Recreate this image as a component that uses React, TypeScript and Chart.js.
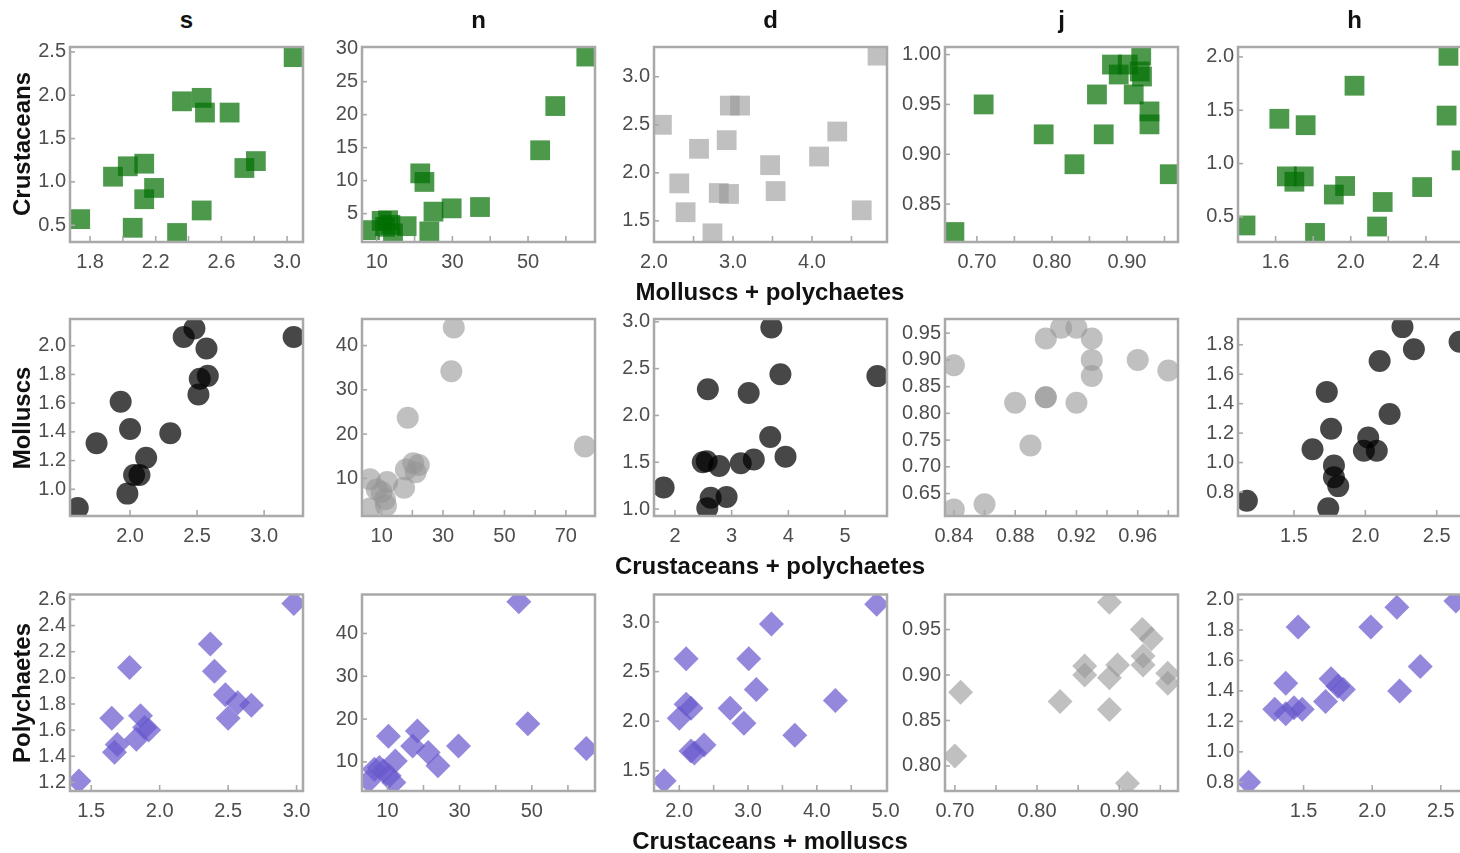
import React, { useEffect, useRef } from 'react';
import { Chart, registerables } from 'chart.js';

Chart.register(...registerables);

// ---------- Column / row labels ----------
const columnTitles = ['s', 'n', 'd', 'j', 'h'];
const rowTitles = ['Crustaceans', 'Molluscs', 'Polychaetes'];
const xAxisTitles = ['Molluscs + polychaetes', 'Crustaceans + polychaetes', 'Crustaceans + molluscs'];

// ---------- Row 1: Crustaceans vs Molluscs + polychaetes ----------
const crusS_x = [1.74, 1.94, 2.03, 2.13, 2.06, 2.13, 2.19, 2.33, 2.36, 2.48, 2.50, 2.48, 2.65, 2.74, 2.81, 3.04];
const crusS_y = [0.57, 1.06, 1.18, 1.21, 0.47, 0.80, 0.93, 0.41, 1.93, 1.97, 1.80, 0.67, 1.80, 1.16, 1.24, 2.44];
const crusN_x = [8.2, 11.3, 13.0, 12.2, 14.3, 17.9, 21.5, 22.6, 23.9, 25.0, 29.8, 37.3, 53.2, 57.2, 65.4, 13.6];
const crusN_y = [2.5, 3.9, 4.0, 3.0, 2.0, 3.1, 11.1, 9.8, 2.3, 5.3, 5.8, 6.0, 14.6, 21.3, 28.8, 3.3];
const crusD_x = [2.10, 2.32, 2.40, 2.57, 2.74, 2.82, 2.95, 2.92, 2.96, 3.09, 3.47, 3.54, 4.09, 4.32, 4.63, 4.83];
const crusD_y = [2.50, 1.89, 1.59, 2.25, 1.37, 1.79, 1.78, 2.34, 2.70, 2.70, 2.08, 1.81, 2.17, 2.43, 1.61, 3.22];
const crusJ_x = [0.670, 0.709, 0.789, 0.830, 0.860, 0.869, 0.880, 0.889, 0.901, 0.909, 0.919, 0.917, 0.920, 0.930, 0.930, 0.957];
const crusJ_y = [0.822, 0.950, 0.920, 0.890, 0.960, 0.920, 0.990, 0.980, 0.990, 0.960, 0.999, 0.983, 0.978, 0.943, 0.930, 0.880];
const crusH_x = [1.44, 1.62, 1.76, 1.66, 1.70, 1.75, 1.81, 1.91, 1.97, 2.02, 2.14, 2.17, 2.38, 2.51, 2.52, 2.59];
const crusH_y = [0.42, 1.42, 1.36, 0.88, 0.83, 0.88, 0.35, 0.71, 0.79, 1.73, 0.41, 0.64, 0.78, 1.45, 2.01, 1.03];

// ---------- Row 2: Molluscs vs Crustaceans + polychaetes ----------
const mollS_x = [1.61, 1.75, 1.93, 2.00, 1.98, 2.03, 2.07, 2.12, 2.30, 2.40, 2.48, 2.57, 2.52, 2.58, 2.51, 3.22];
const mollS_y = [0.87, 1.32, 1.61, 1.42, 0.97, 1.10, 1.10, 1.22, 1.39, 2.06, 2.12, 1.98, 1.77, 1.79, 1.66, 2.06];
const mollN_x = [6.2, 6.2, 8.4, 10.0, 11.8, 11.1, 11.4, 17.3, 17.9, 20.3, 21.1, 22.1, 18.5, 32.7, 33.5, 76.2];
const mollN_y = [9.8, 3.2, 7.5, 6.9, 9.2, 5.3, 3.8, 7.9, 12.0, 13.4, 11.4, 13.0, 23.7, 34.2, 44.1, 17.2];
const mollD_x = [1.80, 2.49, 2.56, 2.58, 2.63, 2.57, 2.78, 2.91, 3.16, 3.30, 3.39, 3.68, 3.70, 3.86, 3.95, 5.57];
const mollD_y = [1.23, 1.50, 1.51, 2.28, 1.12, 1.01, 1.46, 1.13, 1.49, 2.24, 1.53, 1.77, 2.94, 2.44, 1.56, 2.42];
const mollJ_x = [0.84, 0.84, 0.86, 0.88, 0.89, 0.90, 0.90, 0.90, 0.91, 0.92, 0.92, 0.93, 0.93, 0.93, 0.96, 0.98];
const mollJ_y = [0.89, 0.62, 0.63, 0.82, 0.74, 0.83, 0.83, 0.94, 0.96, 0.96, 0.82, 0.94, 0.90, 0.87, 0.90, 0.88];
const mollH_x = [1.17, 1.63, 1.73, 1.76, 1.74, 1.78, 1.78, 1.81, 1.99, 2.02, 2.08, 2.10, 2.17, 2.26, 2.34, 2.66];
const mollH_y = [0.74, 1.09, 1.48, 1.23, 0.69, 0.98, 0.90, 0.84, 1.08, 1.17, 1.08, 1.69, 1.33, 1.92, 1.77, 1.82];

// ---------- Row 3: Polychaetes vs Crustaceans + molluscs ----------
const polyS_x = [1.41, 1.65, 1.67, 1.69, 1.78, 1.83, 1.86, 1.89, 1.92, 2.37, 2.40, 2.48, 2.50, 2.57, 2.67, 2.98];
const polyS_y = [1.21, 1.69, 1.43, 1.49, 2.08, 1.53, 1.71, 1.62, 1.60, 2.26, 2.05, 1.87, 1.69, 1.81, 1.79, 2.57];
const polyN_x = [4.9, 6.4, 7.8, 8.9, 10.5, 11.8, 12.2, 10.3, 17.0, 18.3, 21.3, 24.0, 29.7, 46.4, 48.9, 65.1];
const polyN_y = [5.6, 8.3, 8.7, 7.9, 6.75, 5.2, 10.2, 16.0, 13.7, 17.2, 12.2, 9.1, 13.7, 47.4, 18.9, 13.1];
const polyD_x = [1.78, 2.00, 2.10, 2.10, 2.17, 2.17, 2.22, 2.36, 2.74, 2.94, 3.01, 3.12, 3.34, 3.68, 4.27, 4.87];
const polyD_y = [1.40, 2.03, 2.63, 2.17, 2.13, 1.70, 1.68, 1.76, 2.13, 1.98, 2.63, 2.32, 2.98, 1.86, 2.21, 3.18];
const polyJ_x = [0.700, 0.707, 0.828, 0.858, 0.858, 0.888, 0.888, 0.888, 0.898, 0.910, 0.928, 0.929, 0.929, 0.939, 0.959, 0.959];
const polyJ_y = [0.811, 0.881, 0.871, 0.910, 0.900, 0.980, 0.862, 0.897, 0.911, 0.781, 0.950, 0.921, 0.911, 0.940, 0.902, 0.891];
const polyH_x = [1.10, 1.29, 1.37, 1.37, 1.43, 1.49, 1.46, 1.66, 1.70, 1.75, 1.79, 1.99, 2.18, 2.20, 2.35, 2.61];
const polyH_y = [0.80, 1.28, 1.45, 1.25, 1.29, 1.28, 1.82, 1.33, 1.48, 1.43, 1.41, 1.82, 1.95, 1.40, 1.56, 1.99];

// ---------- Tick labels ----------
const crusS_xl = [1.8, 2.2, 2.6, 3.0];
const crusS_yl = [0.5, 1.0, 1.5, 2.0, 2.5];
const crusN_xl = [10, 30, 50];
const crusN_yl = [5, 10, 15, 20, 25, 30];
const crusD_xl = [2.0, 3.0, 4.0];
const crusD_yl = [1.5, 2.0, 2.5, 3.0];
const crusJ_xl = [0.7, 0.8, 0.9];
const crusJ_yl = [0.85, 0.9, 0.95, 1.0];
const crusH_xl = [1.6, 2.0, 2.4];
const crusH_yl = [0.5, 1.0, 1.5, 2.0];

const mollS_xl = [2.0, 2.5, 3.0];
const mollS_yl = [1.0, 1.2, 1.4, 1.6, 1.8, 2.0];
const mollN_xl = [10, 30, 50, 70];
const mollN_yl = [10, 20, 30, 40];
const mollD_xl = [2, 3, 4, 5];
const mollD_yl = [1.0, 1.5, 2.0, 2.5, 3.0];
const mollJ_xl = [0.84, 0.88, 0.92, 0.96];
const mollJ_yl = [0.65, 0.7, 0.75, 0.8, 0.85, 0.9, 0.95];
const mollH_xl = [1.5, 2.0, 2.5];
const mollH_yl = [0.8, 1.0, 1.2, 1.4, 1.6, 1.8];

const polyS_xl = [1.5, 2.0, 2.5, 3.0];
const polyS_yl = [1.2, 1.4, 1.6, 1.8, 2.0, 2.2, 2.4, 2.6];
const polyN_xl = [10, 30, 50];
const polyN_yl = [10, 20, 30, 40];
const polyD_xl = [2.0, 3.0, 4.0, 5.0];
const polyD_yl = [1.5, 2.0, 2.5, 3.0];
const polyJ_xl = [0.7, 0.8, 0.9];
const polyJ_yl = [0.8, 0.85, 0.9, 0.95];
const polyH_xl = [1.5, 2.0, 2.5];
const polyH_yl = [0.8, 1.0, 1.2, 1.4, 1.6, 1.8, 2.0];

// ---------- Styles ----------
const GREEN = 'rgba(0,110,0,0.7)';
const BLACK = 'rgba(0,0,0,0.72)';
const GRAY = 'rgba(150,150,150,0.6)';
const PURPLE = 'rgba(106,90,205,0.72)';
const FRAME = '#a9a9a9';
const TICK_TEXT = '#4d4d4d';
const FONT = '"Liberation Sans", Arial, sans-serif';

type Spec = {
  xs: number[]; ys: number[];
  shape: 'rect' | 'circle' | 'rectRot'; color: string;
  xr: [number, number]; xStep: number; xl: number[]; xDec: number;
  yr: [number, number]; yStep: number; yl: number[]; yDec: number;
};

const SQ = 'rect' as const, CI = 'circle' as const, DI = 'rectRot' as const;

const rows: Spec[][] = [
  [
    { xs: crusS_x, ys: crusS_y, shape: SQ, color: GREEN, xr: [1.678, 3.097], xStep: 0.2, xl: crusS_xl, xDec: 1, yr: [0.306, 2.557], yStep: 0.5, yl: crusS_yl, yDec: 1 },
    { xs: crusN_x, ys: crusN_y, shape: SQ, color: GREEN, xr: [6.1, 67.7], xStep: 10, xl: crusN_xl, xDec: 0, yr: [0.7, 30.25], yStep: 5, yl: crusN_yl, yDec: 0 },
    { xs: crusD_x, ys: crusD_y, shape: SQ, color: GRAY, xr: [2.0, 4.95], xStep: 0.5, xl: crusD_xl, xDec: 1, yr: [1.28, 3.31], yStep: 0.5, yl: crusD_yl, yDec: 1 },
    { xs: crusJ_x, ys: crusJ_y, shape: SQ, color: GREEN, xr: [0.6575, 0.968], xStep: 0.05, xl: crusJ_xl, xDec: 2, yr: [0.812, 1.0076], yStep: 0.05, yl: crusJ_yl, yDec: 2 },
    { xs: crusH_x, ys: crusH_y, shape: SQ, color: GREEN, xr: [1.40, 2.64], xStep: 0.2, xl: crusH_xl, xDec: 1, yr: [0.265, 2.093], yStep: 0.5, yl: crusH_yl, yDec: 1 },
  ],
  [
    { xs: mollS_x, ys: mollS_y, shape: CI, color: BLACK, xr: [1.552, 3.29], xStep: 0.5, xl: mollS_xl, xDec: 1, yr: [0.814, 2.186], yStep: 0.2, yl: mollS_yl, yDec: 1 },
    { xs: mollN_x, ys: mollN_y, shape: CI, color: GRAY, xr: [3.6, 79.5], xStep: 10, xl: mollN_xl, xDec: 0, yr: [1.5, 46.0], yStep: 10, yl: mollN_yl, yDec: 0 },
    { xs: mollD_x, ys: mollD_y, shape: CI, color: BLACK, xr: [1.63, 5.74], xStep: 1, xl: mollD_xl, xDec: 0, yr: [0.926, 3.03], yStep: 0.5, yl: mollD_yl, yDec: 1 },
    { xs: mollJ_x, ys: mollJ_y, shape: CI, color: GRAY, xr: [0.8342, 0.9863], xStep: 0.02, xl: mollJ_xl, xDec: 2, yr: [0.608, 0.9765], yStep: 0.05, yl: mollJ_yl, yDec: 2 },
    { xs: mollH_x, ys: mollH_y, shape: CI, color: BLACK, xr: [1.108, 2.74], xStep: 0.5, xl: mollH_xl, xDec: 1, yr: [0.637, 1.975], yStep: 0.2, yl: mollH_yl, yDec: 1 },
  ],
  [
    { xs: polyS_x, ys: polyS_y, shape: DI, color: PURPLE, xr: [1.345, 3.047], xStep: 0.5, xl: polyS_xl, xDec: 1, yr: [1.134, 2.638], yStep: 0.2, yl: polyS_yl, yDec: 1 },
    { xs: polyN_x, ys: polyN_y, shape: DI, color: PURPLE, xr: [2.97, 67.5], xStep: 10, xl: polyN_xl, xDec: 0, yr: [3.2, 49.1], yStep: 10, yl: polyN_yl, yDec: 0 },
    { xs: polyD_x, ys: polyD_y, shape: DI, color: PURPLE, xr: [1.633, 5.02], xStep: 0.5, xl: polyD_xl, xDec: 1, yr: [1.297, 3.277], yStep: 0.5, yl: polyD_yl, yDec: 1 },
    { xs: polyJ_x, ys: polyJ_y, shape: DI, color: GRAY, xr: [0.688, 0.9715], xStep: 0.05, xl: polyJ_xl, xDec: 2, yr: [0.7724, 0.9886], yStep: 0.05, yl: polyJ_yl, yDec: 2 },
    { xs: polyH_x, ys: polyH_y, shape: DI, color: PURPLE, xr: [1.022, 2.72], xStep: 0.5, xl: polyH_xl, xDec: 1, yr: [0.743, 2.033], yStep: 0.2, yl: polyH_yl, yDec: 1 },
  ],
];

// ---------- Layout ----------
const PANEL_LEFT = [70, 362, 654, 945, 1238];
const PANEL_TOP = [45, 319, 594];
const PW = 233;
const PH = 197;
const AXW = 62;
const AXH = 36;
const PADT = 12;
const PADR = 24;
const CW = AXW + PW + PADR;
const CH = PADT + PH + AXH;

const radiusFor = (shape: string) => (shape === 'rect' ? 14 : shape === 'circle' ? 11 : 12.5);

function buildTicks(min: number, max: number, step: number, anchor: number): number[] {
  const out: number[] = [];
  const eps = step * 1e-6;
  for (let v = anchor; v >= min - eps; v -= step) out.push(Number(v.toFixed(6)));
  for (let v = anchor + step; v <= max + eps; v += step) out.push(Number(v.toFixed(6)));
  return out.sort((a, b) => a - b);
}

const framePlugin = {
  id: 'frameTicks',
  afterDatasetsDraw(chart: any) {
    const { ctx, chartArea } = chart;
    const { left, right, top, bottom } = chartArea;
    ctx.save();
    ctx.strokeStyle = FRAME;
    ctx.lineWidth = 1.6;
    const xs = chart.scales.x;
    for (const t of xs.ticks) {
      const p = xs.getPixelForValue(t.value);
      if (p < left + 2 || p > right - 2) continue;
      ctx.beginPath();
      ctx.moveTo(p, bottom);
      ctx.lineTo(p, bottom - 6);
      ctx.stroke();
    }
    const ys = chart.scales.y;
    for (const t of ys.ticks) {
      const p = ys.getPixelForValue(t.value);
      if (p < top + 2 || p > bottom - 2) continue;
      ctx.beginPath();
      ctx.moveTo(left, p);
      ctx.lineTo(left + 5, p);
      ctx.stroke();
    }
    ctx.lineWidth = 2.5;
    ctx.strokeRect(left, top, right - left, bottom - top);
    ctx.restore();
  },
};

function Panel({ spec, left, top }: { spec: Spec; left: number; top: number }) {
  const ref = useRef<HTMLCanvasElement | null>(null);
  useEffect(() => {
    if (!ref.current) return;
    const xTicks = buildTicks(spec.xr[0], spec.xr[1], spec.xStep, spec.xl[0]);
    const yTicks = buildTicks(spec.yr[0], spec.yr[1], spec.yStep, spec.yl[0]);
    const has = (arr: number[], v: number, step: number) => arr.some((a) => Math.abs(a - v) < step * 1e-3);
    const tickFont = { family: FONT, size: 20 };
    const chart = new Chart(ref.current, {
      type: 'scatter',
      data: {
        datasets: [
          {
            data: spec.xs.map((x, i) => ({ x, y: spec.ys[i] })),
            pointStyle: spec.shape,
            pointRadius: radiusFor(spec.shape),
            backgroundColor: spec.color,
            pointBackgroundColor: spec.color,
            borderWidth: 0,
            pointBorderWidth: 0,
            clip: 0,
          } as any,
        ],
      },
      options: {
        responsive: false,
        animation: false,
        events: [],
        layout: { padding: { top: PADT, right: PADR, left: 0, bottom: 0 } },
        plugins: { legend: { display: false }, tooltip: { enabled: false } },
        scales: {
          x: {
            type: 'linear',
            min: spec.xr[0],
            max: spec.xr[1],
            grid: { display: false, drawTicks: false },
            border: { display: false },
            afterBuildTicks: (s: any) => { s.ticks = xTicks.map((v) => ({ value: v })); },
            afterFit: (s: any) => { s.height = AXH; s.paddingLeft = 0; s.paddingRight = 0; },
            ticks: {
              autoSkip: false, maxRotation: 0, minRotation: 0, padding: 8,
              color: TICK_TEXT, font: tickFont,
              callback: (v: any) => (has(spec.xl, Number(v), spec.xStep) ? Number(v).toFixed(spec.xDec) : ''),
            },
          },
          y: {
            type: 'linear',
            min: spec.yr[0],
            max: spec.yr[1],
            grid: { display: false, drawTicks: false },
            border: { display: false },
            afterBuildTicks: (s: any) => { s.ticks = yTicks.map((v) => ({ value: v })); },
            afterFit: (s: any) => { s.width = AXW; s.paddingTop = 0; s.paddingBottom = 0; },
            ticks: {
              autoSkip: false, padding: 4,
              color: TICK_TEXT, font: tickFont,
              callback: (v: any) => (has(spec.yl, Number(v), spec.yStep) ? Number(v).toFixed(spec.yDec) : ''),
            },
          },
        },
      } as any,
      plugins: [framePlugin],
    });
    return () => chart.destroy();
  }, [spec]);
  return (
    <canvas
      ref={ref}
      width={CW}
      height={CH}
      style={{ position: 'absolute', left: left - AXW, top: top - PADT, width: CW, height: CH }}
    />
  );
}

const boldText: React.CSSProperties = {
  position: 'absolute',
  fontFamily: FONT,
  fontWeight: 'bold',
  fontSize: 24,
  color: '#111',
  whiteSpace: 'nowrap',
  lineHeight: 1,
};

export default function App() {
  return (
    <div style={{ position: 'absolute', left: 0, top: 0, width: 1460, height: 853, overflow: 'hidden', background: '#fff' }}>
      {rows.map((row, r) =>
        row.map((spec, c) => (
          <Panel key={`${r}-${c}`} spec={spec} left={PANEL_LEFT[c]} top={PANEL_TOP[r]} />
        ))
      )}
      {columnTitles.map((t, c) => (
        <div key={t} style={{ ...boldText, left: PANEL_LEFT[c] + PW / 2, top: 20, transform: 'translate(-50%,-50%)' }}>{t}</div>
      ))}
      {rowTitles.map((t, r) => (
        <div key={t} style={{ ...boldText, left: 22, top: PANEL_TOP[r] + PH / 2, transform: 'translate(-50%,-50%) rotate(-90deg)' }}>{t}</div>
      ))}
      {xAxisTitles.map((t, r) => (
        <div key={t} style={{ ...boldText, left: 770, top: PANEL_TOP[r] + PH + 50, transform: 'translate(-50%,-50%)' }}>{t}</div>
      ))}
    </div>
  );
}
